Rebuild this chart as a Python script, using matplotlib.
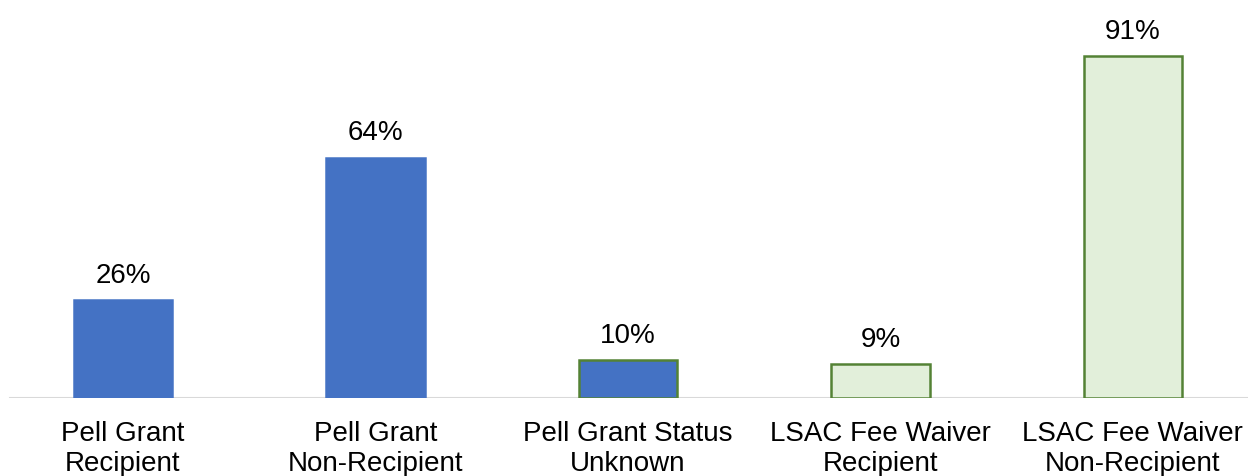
import matplotlib
matplotlib.use("Agg")
import matplotlib.pyplot as plt

categories = ["Pell Grant\nRecipient", "Pell Grant\nNon-Recipient", "Pell Grant Status\nUnknown",
              "LSAC Fee Waiver\nRecipient", "LSAC Fee Waiver\nNon-Recipient"]
values = [26, 64, 10, 9, 91]
fill_colors = ["#4472C4", "#4472C4", "#4472C4", "#E2EFDA", "#E2EFDA"]
edge_colors = ["#4472C4", "#4472C4", "#548235", "#548235", "#548235"]

plt.rcParams["font.family"] = ["Liberation Sans", "DejaVu Sans"]

W, H, DPI = 1248, 477, 100
fig = plt.figure(figsize=(W / DPI, H / DPI), dpi=DPI)
ax = fig.add_axes([0, 78 / H, 1, 1 - 78 / H])

x = list(range(len(values)))
ax.bar(x, values, width=0.39, color=fill_colors, edgecolor=edge_colors, linewidth=1.8, zorder=3)

for xi, v in zip(x, values):
    ax.annotate(f"{v}%", (xi, v), xytext=(0, 9), textcoords="offset points",
                ha="center", va="bottom", fontsize=20, color="#000000")

ax.set_xlim(-0.487, 4.456)
ax.set_ylim(0, 106.2)
ax.axhline(0, xmin=10 / W, xmax=1, color="#D9D9D9", linewidth=1.5, zorder=2)

ax.set_xticks(x)
ax.set_xticklabels(categories, fontsize=20, linespacing=1.2)
ax.tick_params(axis="x", length=0, pad=16)
ax.set_yticks([])
for s in ax.spines.values():
    s.set_visible(False)

fig.savefig("out.png", dpi=DPI)
